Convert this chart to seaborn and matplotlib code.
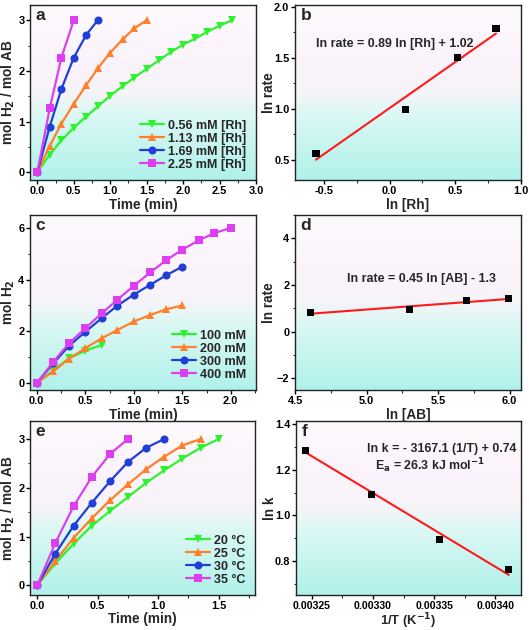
import numpy as np
import pandas as pd
import matplotlib
matplotlib.use("Agg")
import matplotlib.pyplot as plt
from matplotlib.colors import LinearSegmentedColormap
from matplotlib.ticker import MultipleLocator, AutoMinorLocator, FormatStrFormatter
import seaborn as sns

sns.set_theme(style="ticks")
plt.rcParams['font.family'] = ['Liberation Sans', 'DejaVu Sans']
plt.rcParams['font.weight'] = 'bold'
plt.rcParams['axes.labelweight'] = 'bold'
plt.rcParams['mathtext.default'] = 'bf'

# ---------------- data ----------------
# panel a: [Rh] series
a_labels = ["0.56 mM [Rh]", "1.13 mM [Rh]", "1.69 mM [Rh]", "2.25 mM [Rh]"]
a_t1 = [0, 0.17, 0.33, 0.5, 0.67, 0.83, 1.0, 1.17, 1.33, 1.5, 1.67, 1.83, 2.0, 2.17, 2.33, 2.5, 2.67]
a_y1 = [0, 0.35, 0.63, 0.88, 1.10, 1.30, 1.51, 1.70, 1.87, 2.04, 2.21, 2.37, 2.52, 2.64, 2.77, 2.89, 3.0]
a_t2 = [0, 0.17, 0.33, 0.5, 0.67, 0.83, 1.0, 1.17, 1.33, 1.5]
a_y2 = [0, 0.52, 0.96, 1.35, 1.72, 2.05, 2.36, 2.62, 2.84, 3.0]
a_t3 = [0, 0.17, 0.33, 0.5, 0.67, 0.83]
a_y3 = [0, 0.90, 1.64, 2.26, 2.71, 3.0]
a_t4 = [0, 0.17, 0.33, 0.5]
a_y4 = [0, 1.26, 2.26, 3.0]

# panel b
b_x = [-0.56, 0.12, 0.52, 0.81]
b_y = [0.56, 0.99, 1.50, 1.79]
b_fit_x = [-0.56, 0.81]
b_fit_y = [0.50, 1.74]

# panel c: [AB] series
c_labels = ["100 mM", "200 mM", "300 mM", "400 mM"]
c_t1 = [0, 0.17, 0.33, 0.5, 0.67]
c_y1 = [0, 0.49, 0.95, 1.25, 1.47]
c_t2 = [0, 0.17, 0.33, 0.5, 0.67, 0.83, 1.0, 1.17, 1.33, 1.5]
c_y2 = [0, 0.45, 0.93, 1.35, 1.73, 2.05, 2.38, 2.63, 2.85, 3.0]
c_t3 = [0, 0.17, 0.33, 0.5, 0.67, 0.83, 1.0, 1.17, 1.33, 1.5]
c_y3 = [0, 0.76, 1.43, 1.98, 2.51, 2.99, 3.42, 3.80, 4.16, 4.5]
c_t4 = [0, 0.17, 0.33, 0.5, 0.67, 0.83, 1.0, 1.17, 1.33, 1.5, 1.67, 1.83, 2.0]
c_y4 = [0, 0.82, 1.53, 2.12, 2.70, 3.22, 3.76, 4.28, 4.74, 5.16, 5.52, 5.80, 6.0]

# panel d
d_x = [4.61, 5.30, 5.70, 5.99]
d_y = [0.82, 0.94, 1.32, 1.41]
d_fit_x = [4.61, 5.99]
d_fit_y = [0.77, 1.40]

# panel e: temperature series
e_labels = ["20 \u00b0C", "25 \u00b0C", "30 \u00b0C", "35 \u00b0C"]
e_t1 = [0, 0.15, 0.3, 0.45, 0.6, 0.75, 0.9, 1.05, 1.2, 1.35, 1.5]
e_y1 = [0, 0.45, 0.85, 1.22, 1.52, 1.81, 2.10, 2.36, 2.60, 2.82, 3.0]
e_t2 = [0, 0.15, 0.3, 0.45, 0.6, 0.75, 0.9, 1.05, 1.2, 1.35]
e_y2 = [0, 0.50, 0.97, 1.37, 1.74, 2.07, 2.38, 2.64, 2.87, 3.0]
e_t3 = [0, 0.15, 0.3, 0.45, 0.6, 0.75, 0.9, 1.05]
e_y3 = [0, 0.65, 1.22, 1.69, 2.13, 2.53, 2.82, 3.0]
e_t4 = [0, 0.15, 0.3, 0.45, 0.6, 0.75]
e_y4 = [0, 0.87, 1.62, 2.22, 2.69, 3.0]

# panel f
f_x = [0.003245, 0.003299, 0.003354, 0.003411]
f_y = [1.285, 1.09, 0.895, 0.762]
f_fit_x = [0.003245, 0.003411]
f_fit_y = [1.275, 0.74]

colors = ["#2ef22e", "#ff7f2a", "#1f3fd6", "#dd3ff0"]
markers = ["v", "^", "o", "s"]

bg_cmap = LinearSegmentedColormap.from_list(
    "bg", [(0.0, "#fdfafd"), (0.35, "#fbf3fb"), (0.5, "#f6f4f9"),
           (0.62, "#dcf8f4"), (1.0, "#b0f1ea")])

TICK_FS = 7.9
LAB_FS = 9.8
TXT_FS = 8.9


def add_bg(ax):
    grad = np.linspace(0, 1, 256).reshape(-1, 1)
    ax.imshow(grad, cmap=bg_cmap, aspect="auto", extent=[0, 1, 0, 1],
              origin="upper", transform=ax.transAxes, zorder=-10)


def style_ax(ax, letter, ylab_x, xlab_y=-0.1):
    ax.tick_params(axis="both", which="major", direction="out", length=2.8, width=1,
                   labelsize=TICK_FS, pad=1.2, colors="black")
    ax.tick_params(axis="both", which="minor", direction="out", length=1.8, width=0.8)
    ax.xaxis.set_minor_locator(AutoMinorLocator(2))
    ax.yaxis.set_minor_locator(AutoMinorLocator(2))
    for s in ax.spines.values():
        s.set_linewidth(1.0)
        s.set_color("#222222")
    for lab in ax.get_xticklabels() + ax.get_yticklabels():
        lab.set_fontweight("bold")
    ax.text(0.025, 0.985, letter, transform=ax.transAxes, ha="left", va="top",
            fontsize=12.5, fontweight="bold")
    ax.grid(False)
    ax.yaxis.set_label_coords(ylab_x, 0.5)
    ax.xaxis.set_label_coords(0.5, xlab_y)
    ax.xaxis.label.set_verticalalignment("top")


def make_long(labels, ts, ys):
    rows = []
    for lab, t, y in zip(labels, ts, ys):
        for tt, yy in zip(t, y):
            rows.append({"series": lab, "t": tt, "y": yy})
    return pd.DataFrame(rows)


W, H = 529, 630
fig = plt.figure(figsize=(W / 100, H / 100), dpi=100)


def axes_px(l, r, t, b):
    return fig.add_axes([l / W, 1 - b / H, (r - l) / W, (b - t) / H])


ax_a = axes_px(30, 256, 5, 180)
ax_b = axes_px(295, 521, 5, 180)
ax_c = axes_px(30, 256, 215, 390)
ax_d = axes_px(295, 521, 215, 390)
ax_e = axes_px(30, 255, 421, 595)
ax_f = axes_px(296, 521, 421, 595)


def kinetic_panel(ax, labels, ts, ys):
    add_bg(ax)
    df = make_long(labels, ts, ys)
    sns.lineplot(data=df, x="t", y="y", hue="series", style="series",
                 hue_order=labels, style_order=labels,
                 palette=dict(zip(labels, colors)),
                 markers=dict(zip(labels, markers)), dashes=False,
                 markersize=5.8, markeredgewidth=0, linewidth=1.6,
                 sort=False, estimator=None, ax=ax, zorder=3)
    handles, labs = ax.get_legend_handles_labels()
    ax.legend(handles, labs, loc="lower right", frameon=False,
              prop={"weight": "bold", "size": 9}, handlelength=1.9,
              handletextpad=0.35, labelspacing=0.08, borderaxespad=0.35,
              borderpad=0.4)
    ax.set_xlabel("Time (min)", fontsize=LAB_FS, fontweight="bold")


def fit_panel(ax, x, y, fx, fy):
    add_bg(ax)
    sns.lineplot(x=fx, y=fy, color="#ff1a1a", linewidth=1.5, ax=ax, zorder=3)
    sns.scatterplot(x=x, y=y, color="black", marker="s", s=26, edgecolor="none",
                    ax=ax, zorder=4)


# ---- a ----
kinetic_panel(ax_a, a_labels, [a_t1, a_t2, a_t3, a_t4], [a_y1, a_y2, a_y3, a_y4])
ax_a.set_xlim(-0.1, 3.0)
ax_a.set_ylim(-0.15, 3.3)
ax_a.xaxis.set_major_locator(MultipleLocator(0.5))
ax_a.yaxis.set_major_locator(MultipleLocator(1))
ax_a.xaxis.set_major_formatter(FormatStrFormatter("%.1f"))
ax_a.set_ylabel("mol H$_2$ / mol AB", fontsize=LAB_FS, fontweight="bold")
style_ax(ax_a, "a", -0.058)

# ---- b ----
fit_panel(ax_b, b_x, b_y, b_fit_x, b_fit_y)
ax_b.set_xlim(-0.72, 1.0)
ax_b.set_ylim(0.3, 2.02)
ax_b.xaxis.set_major_locator(MultipleLocator(0.5))
ax_b.yaxis.set_major_locator(MultipleLocator(0.5))
ax_b.xaxis.set_major_formatter(FormatStrFormatter("%.1f"))
ax_b.yaxis.set_major_formatter(FormatStrFormatter("%.1f"))
ax_b.set_xlabel("ln [Rh]", fontsize=LAB_FS, fontweight="bold")
ax_b.set_ylabel("ln rate", fontsize=LAB_FS, fontweight="bold")
ax_b.text(0.095, 0.78, "ln rate = 0.89 ln [Rh] + 1.02", transform=ax_b.transAxes,
          fontsize=TXT_FS, fontweight="bold", va="center")
style_ax(ax_b, "b", -0.085)

# ---- c ----
kinetic_panel(ax_c, c_labels, [c_t1, c_t2, c_t3, c_t4], [c_y1, c_y2, c_y3, c_y4])
ax_c.set_xlim(-0.07, 2.26)
ax_c.set_ylim(-0.27, 6.5)
ax_c.xaxis.set_major_locator(MultipleLocator(0.5))
ax_c.yaxis.set_major_locator(MultipleLocator(2))
ax_c.xaxis.set_major_formatter(FormatStrFormatter("%.1f"))
ax_c.set_ylabel("mol H$_2$", fontsize=LAB_FS, fontweight="bold")
style_ax(ax_c, "c", -0.058)

# ---- d ----
fit_panel(ax_d, d_x, d_y, d_fit_x, d_fit_y)
ax_d.set_xlim(4.5, 6.08)
ax_d.set_ylim(-2.5, 5.0)
ax_d.xaxis.set_major_locator(MultipleLocator(0.5))
ax_d.yaxis.set_major_locator(MultipleLocator(2))
ax_d.xaxis.set_major_formatter(FormatStrFormatter("%.1f"))
ax_d.set_xlabel("ln [AB]", fontsize=LAB_FS, fontweight="bold")
ax_d.set_ylabel("ln rate", fontsize=LAB_FS, fontweight="bold")
ax_d.text(0.23, 0.635, "ln rate = 0.45 ln [AB] - 1.3", transform=ax_d.transAxes,
          fontsize=TXT_FS, fontweight="bold", va="center")
style_ax(ax_d, "d", -0.085)

# ---- e ----
kinetic_panel(ax_e, e_labels, [e_t1, e_t2, e_t3, e_t4], [e_y1, e_y2, e_y3, e_y4])
ax_e.set_xlim(-0.06, 1.8)
ax_e.set_ylim(-0.2, 3.37)
ax_e.xaxis.set_major_locator(MultipleLocator(0.5))
ax_e.yaxis.set_major_locator(MultipleLocator(1))
ax_e.xaxis.set_major_formatter(FormatStrFormatter("%.1f"))
ax_e.set_ylabel("mol H$_2$ / mol AB", fontsize=LAB_FS, fontweight="bold")
style_ax(ax_e, "e", -0.058, -0.098)

# ---- f ----
fit_panel(ax_f, f_x, f_y, f_fit_x, f_fit_y)
ax_f.set_xlim(0.003237, 0.003421)
ax_f.set_ylim(0.652, 1.413)
ax_f.xaxis.set_major_locator(MultipleLocator(0.00005))
ax_f.yaxis.set_major_locator(MultipleLocator(0.2))
ax_f.xaxis.set_major_formatter(FormatStrFormatter("%.5f"))
ax_f.yaxis.set_major_formatter(FormatStrFormatter("%.1f"))
ax_f.set_xlabel("1/T (K$^{-1}$)", fontsize=9.4, fontweight="bold")
ax_f.set_ylabel("ln k", fontsize=LAB_FS, fontweight="bold")
ax_f.text(0.315, 0.84, "ln k = - 3167.1 (1/T) + 0.74", transform=ax_f.transAxes,
          fontsize=TXT_FS, fontweight="bold", va="center")
ax_f.text(0.35, 0.745, "E$_a$ = 26.3 kJ mol$^{-1}$", transform=ax_f.transAxes,
          fontsize=TXT_FS, fontweight="bold", va="center")
style_ax(ax_f, "f", -0.085, -0.094)
ax_f.tick_params(axis="x", labelsize=7.6)

fig.savefig("out.png", dpi=100)
